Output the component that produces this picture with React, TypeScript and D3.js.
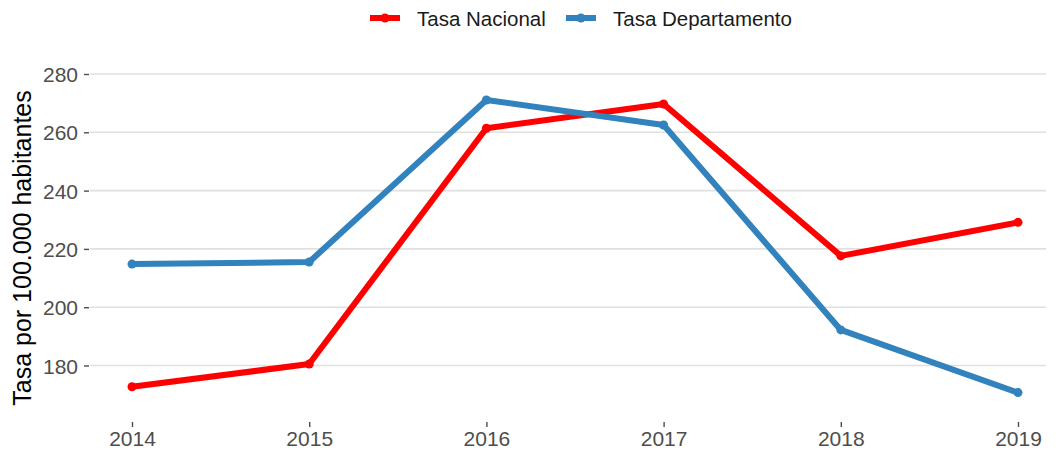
import React, { useEffect, useRef } from 'react';
import * as d3 from 'd3';

const years = [2014, 2015, 2016, 2017, 2018, 2019];
const tasaNacional = [172.7, 180.5, 261.4, 269.7, 217.6, 229.1];
const tasaDepartamento = [214.8, 215.5, 271.1, 262.5, 192.2, 170.7];
const yTicks = [180, 200, 220, 240, 260, 280];

const series = [
  { name: 'Tasa Nacional', color: '#ff0000', values: tasaNacional },
  { name: 'Tasa Departamento', color: '#3182bd', values: tasaDepartamento },
];

const App: React.FC = () => {
  const svgRef = useRef<SVGSVGElement>(null);

  useEffect(() => {
    if (!svgRef.current) return;
    const svg = d3.select(svgRef.current);
    svg.selectAll('*').remove();

    const font = 'Liberation Sans, Arial, Helvetica, sans-serif';
    const panel = { left: 90, right: 1046 };

    const x = d3.scaleLinear().domain([2014, 2019]).range([132, 1018]);
    const y = d3.scaleLinear().domain([180, 280]).range([365.5, 74]);

    // grid lines
    svg
      .append('g')
      .selectAll('line')
      .data(yTicks)
      .enter()
      .append('line')
      .attr('x1', panel.left)
      .attr('x2', panel.right)
      .attr('y1', (d) => y(d))
      .attr('y2', (d) => y(d))
      .attr('stroke', '#e0e0e0')
      .attr('stroke-width', 1.6);

    // y axis
    const yAxis = svg
      .append('g')
      .attr('transform', `translate(${panel.left - 1},0)`)
      .call(d3.axisLeft(y).tickValues(yTicks).tickSize(5).tickPadding(6));
    yAxis.select('.domain').remove();
    yAxis.selectAll('line').attr('stroke', '#4d4d4d').attr('stroke-width', 1.4);
    yAxis
      .selectAll('text')
      .attr('fill', '#4d4d4d')
      .attr('dy', '0.36em')
      .style('font-family', font)
      .style('font-size', '21px');

    // x axis
    const xAxis = svg
      .append('g')
      .attr('transform', 'translate(0,422)')
      .call(
        d3
          .axisBottom(x)
          .tickValues(years)
          .tickFormat(d3.format('d'))
          .tickSize(5)
          .tickPadding(4)
      );
    xAxis.select('.domain').remove();
    xAxis.selectAll('line').attr('stroke', '#4d4d4d').attr('stroke-width', 1.4);
    xAxis
      .selectAll('text')
      .attr('fill', '#4d4d4d')
      .style('font-family', font)
      .style('font-size', '21px');

    // axis title
    svg
      .append('text')
      .attr('transform', 'translate(31,248) rotate(-90)')
      .attr('text-anchor', 'middle')
      .style('font-family', font)
      .style('font-size', '25px')
      .attr('fill', '#000')
      .text('Tasa por 100.000 habitantes');

    const line = d3
      .line<number>()
      .x((_, i) => x(years[i]))
      .y((d) => y(d));

    series.forEach((s) => {
      svg
        .append('path')
        .datum(s.values)
        .attr('d', line)
        .attr('fill', 'none')
        .attr('stroke', s.color)
        .attr('stroke-width', 6)
        .attr('stroke-linejoin', 'round');
      svg
        .append('g')
        .selectAll('circle')
        .data(s.values)
        .enter()
        .append('circle')
        .attr('cx', (_, i) => x(years[i]))
        .attr('cy', (d) => y(d))
        .attr('r', 4.5)
        .attr('fill', s.color);
    });

    // legend
    const legendX = [370, 566];
    series.forEach((s, i) => {
      const g = svg.append('g').attr('transform', `translate(${legendX[i]},18)`);
      g.append('line')
        .attr('x1', 0)
        .attr('x2', 30)
        .attr('y1', 0)
        .attr('y2', 0)
        .attr('stroke', s.color)
        .attr('stroke-width', 6);
      g.append('circle').attr('cx', 15).attr('cy', 0).attr('r', 4.5).attr('fill', s.color);
      g.append('text')
        .attr('x', 47)
        .attr('y', 7.5)
        .style('font-family', font)
        .style('font-size', '20.5px')
        .attr('fill', '#1a1a1a')
        .text(s.name);
    });
  }, []);

  return (
    <svg
      ref={svgRef}
      width={1058}
      height={453}
      style={{ position: 'absolute', left: 0, top: 0, background: '#fff' }}
    />
  );
};

export default App;
